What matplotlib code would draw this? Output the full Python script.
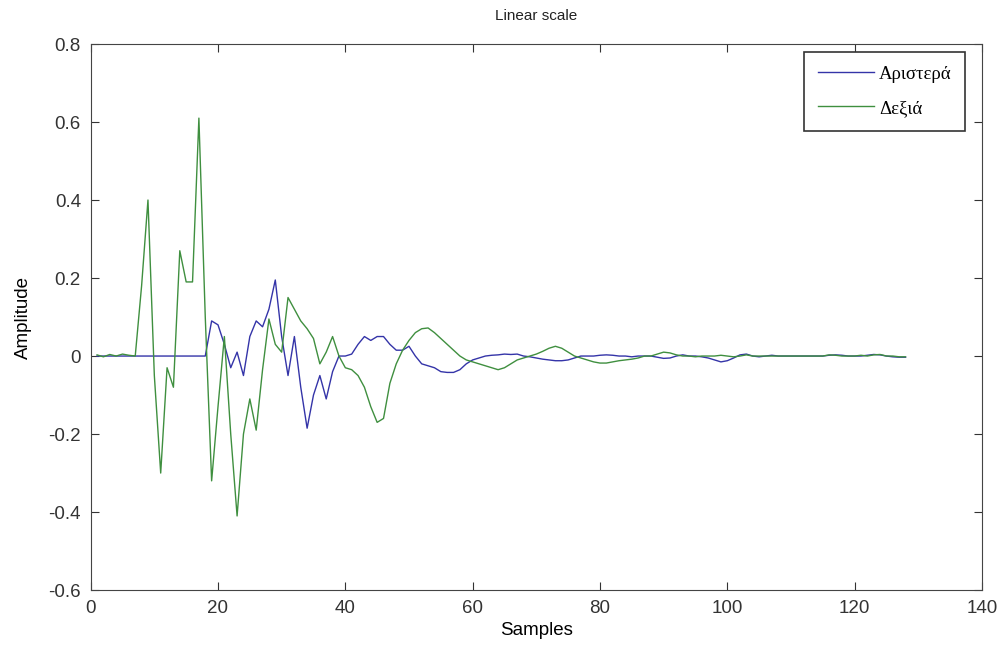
import matplotlib

matplotlib.use("Agg")
import matplotlib.pyplot as plt
import numpy as np

# impulse responses, samples 1..128
left = [
    0, 0, 0, 0, 0, 0, 0, 0, 0, 0,
    0, 0, 0, 0, 0, 0, 0, 0.0, 0.09, 0.08,
    0.03, -0.03, 0.01, -0.05, 0.05, 0.09, 0.075, 0.12, 0.195, 0.05,
    -0.05, 0.05, -0.08, -0.185, -0.10, -0.05, -0.11, -0.04, 0.0, 0.0,
    0.005, 0.03, 0.05, 0.04, 0.05, 0.05, 0.03, 0.015, 0.015, 0.025,
    0.0, -0.02, -0.025, -0.03, -0.04, -0.042, -0.042, -0.035, -0.02, -0.01,
    -0.005, 0.0, 0.002, 0.003, 0.005, 0.004, 0.005, 0.0, -0.002, -0.005,
    -0.008, -0.01, -0.012, -0.012, -0.01, -0.005, 0.0, 0.0, 0.0, 0.002,
    0.003, 0.002, 0.0, 0.0, -0.002, 0.0, 0.0, 0.0, -0.003, -0.006,
    -0.005, 0.0, 0.003, 0.0, 0.0, -0.002, -0.005, -0.01, -0.015, -0.012,
    -0.005, 0.003, 0.005, 0.0, -0.002, 0.0, 0.002, 0.0, 0.0, 0.0,
    0.0, 0.0, 0.0, 0.0, 0.0, 0.002, 0.003, 0.002, 0.0, 0.0,
    0.0, 0.002, 0.004, 0.003, 0.0, -0.002, -0.003, -0.003,
]
right = [
    0.003, -0.002, 0.004, 0.0, 0.005, 0.002, 0.0, 0.18, 0.40, -0.05,
    -0.30, -0.03, -0.08, 0.27, 0.19, 0.19, 0.61, 0.10, -0.32, -0.13,
    0.05, -0.20, -0.41, -0.20, -0.11, -0.19, -0.035, 0.095, 0.03, 0.01,
    0.15, 0.12, 0.09, 0.07, 0.045, -0.02, 0.01, 0.05, 0.0, -0.03,
    -0.035, -0.05, -0.08, -0.13, -0.17, -0.16, -0.07, -0.02, 0.015, 0.04,
    0.06, 0.07, 0.072, 0.06, 0.045, 0.03, 0.015, 0.0, -0.01, -0.015,
    -0.02, -0.025, -0.03, -0.035, -0.03, -0.02, -0.01, -0.005, 0.0, 0.005,
    0.012, 0.02, 0.025, 0.02, 0.01, 0.0, -0.005, -0.01, -0.015, -0.018,
    -0.018, -0.015, -0.012, -0.01, -0.008, -0.005, 0.0, 0.0, 0.005, 0.01,
    0.008, 0.003, 0.0, 0.0, -0.002, 0.0, 0.0, 0.0, 0.002, 0.0,
    -0.002, 0.0, 0.003, 0.0, 0.0, 0.0, 0.0, 0.0, 0.0, 0.0,
    0.0, 0.0, 0.0, 0.0, 0.0, 0.003, 0.002, 0.0, 0.0, 0.0,
    0.002, 0.0, 0.003, 0.004, 0.0, 0.0, -0.002, -0.002,
]
samples = np.arange(1, len(left) + 1)
labels = ["Αριστερά", "Δεξιά"]

plt.rcParams["font.family"] = ["Liberation Sans", "DejaVu Sans"]

fig = plt.figure(figsize=(10.03, 6.52), dpi=100)
ax = fig.add_axes([0.0904, 0.095, 0.8886, 0.8375])

ax.plot(samples, left, color="#3434a8", lw=1.0, label=labels[0])
ax.plot(samples, right, color="#3f8f3f", lw=1.0, label=labels[1])

ax.set_xlim(0, 140)
ax.set_ylim(-0.6, 0.8)
ax.set_xticks(np.arange(0, 141, 20))
ax.set_yticks(np.round(np.arange(-0.6, 0.81, 0.2), 1))
ax.set_yticklabels(["-0.6", "-0.4", "-0.2", "0", "0.2", "0.4", "0.6", "0.8"])
ax.tick_params(direction="in", top=True, right=True, length=6, labelsize=13.5,
               colors="#333333", pad=7)
for s in ax.spines.values():
    s.set_color("#444444")

ax.set_title("Linear scale", fontsize=11, color="#222222", pad=17)
ax.set_xlabel("Samples", fontsize=13.5, labelpad=4)
ax.set_ylabel("Amplitude", fontsize=13.5, labelpad=12)

leg = ax.legend(loc="upper right", bbox_to_anchor=(0.9815, 0.986), fancybox=False,
                framealpha=1, edgecolor="#333333", handlelength=3.0, handletextpad=0.25,
                labelspacing=0.9, borderpad=0.75, borderaxespad=0,
                prop={"family": ["Liberation Serif", "DejaVu Serif"], "size": 13.5})
leg.get_frame().set_linewidth(1.2)

fig.savefig("out.png", dpi=100)
